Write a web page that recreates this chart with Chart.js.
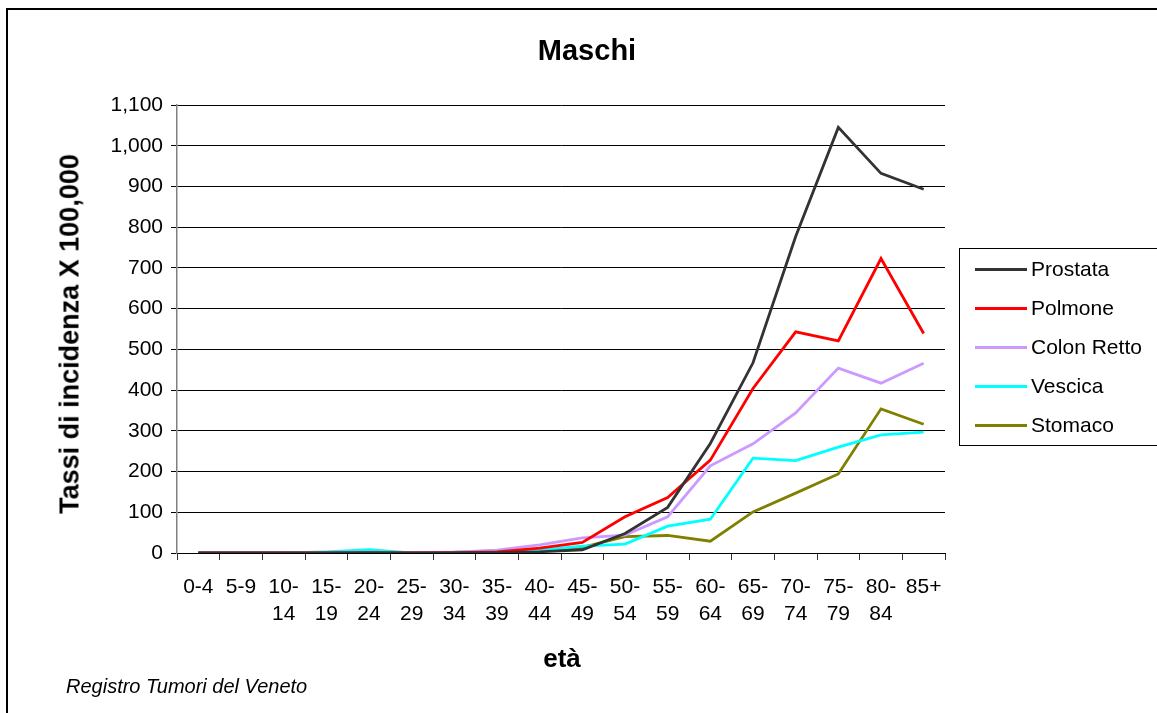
<!DOCTYPE html>
<html>
<head>
<meta charset="utf-8">
<script src="https://cdn.jsdelivr.net/npm/chart.js@4"></script>
<style>
  body { margin: 0; background: #fff; font-family: 'Liberation Sans', Arial, sans-serif; overflow: hidden; }
  #wrap { position: relative; width: 1157px; height: 713px; overflow: hidden; }
  #frame { position: absolute; left: 6px; top: 8px; width: 1151px; height: 705px;
           border-left: 2px solid #000; border-top: 2px solid #000; box-sizing: border-box; }
  canvas { position: absolute; left: 0; top: 0; }
  .txt { position: absolute; line-height: 1; white-space: nowrap; color: #000; }
  #title { left: 587px; top: 50px; transform: translate(-50%, -50%); font-weight: bold; font-size: 29px; }
  #ytitle { left: 70px; top: 334px; transform: translate(-50%, -50%) rotate(-90deg); font-weight: bold; font-size: 27px; }
  #xtitle { left: 562px; top: 658px; transform: translate(-50%, -50%); font-weight: bold; font-size: 26px; }
  #source { left: 66px; top: 686px; transform: translateY(-50%); font-style: italic; font-size: 20px; }
  #legend { position: absolute; left: 959px; top: 248px; width: 198px; height: 198px;
            border-top: 1px solid #000; border-bottom: 1px solid #000; border-left: 1px solid #000;
            box-sizing: border-box; }
  .item { position: absolute; left: 0; height: 20px; }
  .item span.ln { position: absolute; left: 15px; top: 9px; width: 52px; height: 3px; }
  .item span.lb { position: absolute; left: 71px; top: 0; font-size: 21px; line-height: 20px; white-space: nowrap; }
</style>
</head>
<body>
<div id="wrap">
  <div id="frame"></div>
  <canvas id="chart" width="1157" height="713"></canvas>
  <div class="txt" id="title">Maschi</div>
  <div class="txt" id="ytitle">Tassi di incidenza X 100,000</div>
  <div class="txt" id="xtitle">età</div>
  <div class="txt" id="source">Registro Tumori del Veneto</div>
  <div id="legend"></div>
</div>
<script>
const ageGroups = ['0-4', '5-9', '10-14', '15-19', '20-24', '25-29', '30-34', '35-39', '40-44',
  '45-49', '50-54', '55-59', '60-64', '65-69', '70-74', '75-79', '80-84', '85+'];

const prostata = [0, 0, 0, 0, 0, 0, 0, 1, 3, 8, 48, 112, 269, 467, 777, 1045, 932, 893];
const polmone = [0, 0, 0, 0, 1, 0, 1, 3, 12, 26, 89, 136, 228, 404, 543, 521, 723, 539];
const colonRetto = [0, 0, 0, 1, 1, 1, 2, 7, 20, 37, 44, 89, 214, 268, 344, 454, 417, 466];
const vescica = [0, 0, 0, 3, 8, 0, 2, 5, 7, 17, 22, 66, 83, 233, 227, 260, 290, 297];
const stomaco = [0, 0, 0, 0, 1, 0, 1, 2, 5, 14, 40, 43, 29, 101, 147, 194, 354, 316];

const seriesNames = ['Prostata', 'Polmone', 'Colon Retto', 'Vescica', 'Stomaco'];
const seriesColors = ['#333333', '#ff0000', '#cc99ff', '#00ffff', '#808000'];
const seriesData = [prostata, polmone, colonRetto, vescica, stomaco];

const yMax = 1100;
const yStep = 100;

// split "10-14" into two lines like the original axis
const xLabels = ageGroups.map(g => {
  const m = g.match(/^(\d+)-(\d+)$/);
  if (m && g.length > 3) return [m[1] + '-', m[2]];
  return g;
});

const tickFont = { family: "'Liberation Sans', Arial, sans-serif", size: 21, lineHeight: 1.32 };

const ctx = document.getElementById('chart').getContext('2d');
const chart = new Chart(ctx, {
  type: 'line',
  data: {
    labels: xLabels,
    datasets: seriesNames.map((name, i) => ({
      label: name,
      data: seriesData[i],
      borderColor: seriesColors[i],
      backgroundColor: seriesColors[i],
      borderWidth: 2.8,
      pointRadius: 0,
      tension: 0,
      fill: false
    }))
  },
  options: {
    responsive: false,
    animation: false,
    locale: 'en-US',
    layout: { padding: { top: 105, right: 212, bottom: 0, left: 0 } },
    plugins: {
      legend: { display: false },
      title: { display: false },
      tooltip: { enabled: false }
    },
    scales: {
      x: {
        offset: true,
        grid: { drawOnChartArea: false, drawTicks: true, tickLength: 7, color: '#333333', offset: true },
        border: { color: '#000000', width: 1 },
        ticks: { font: tickFont, color: '#000', maxRotation: 0, minRotation: 0, autoSkip: false, padding: 13 },
        afterFit: s => { s.height = 713 - 553; }
      },
      y: {
        min: 0,
        max: yMax,
        grid: { color: '#000000', lineWidth: 1, tickLength: 6 },
        border: { color: '#808080', width: 1.5 },
        ticks: {
          stepSize: yStep,
          font: tickFont,
          color: '#000',
          padding: 8,
          callback: v => v.toLocaleString('en-US')
        },
        afterFit: s => { s.width = 177; }
      }
    }
  }
});

// legend box
const legend = document.getElementById('legend');
const rowTops = [10, 49, 88, 127, 166];
seriesNames.forEach((name, i) => {
  const item = document.createElement('div');
  item.className = 'item';
  item.style.top = rowTops[i] + 'px';
  item.innerHTML = `<span class="ln" style="background:${seriesColors[i]}"></span><span class="lb">${name}</span>`;
  legend.appendChild(item);
});
</script>
</body>
</html>
